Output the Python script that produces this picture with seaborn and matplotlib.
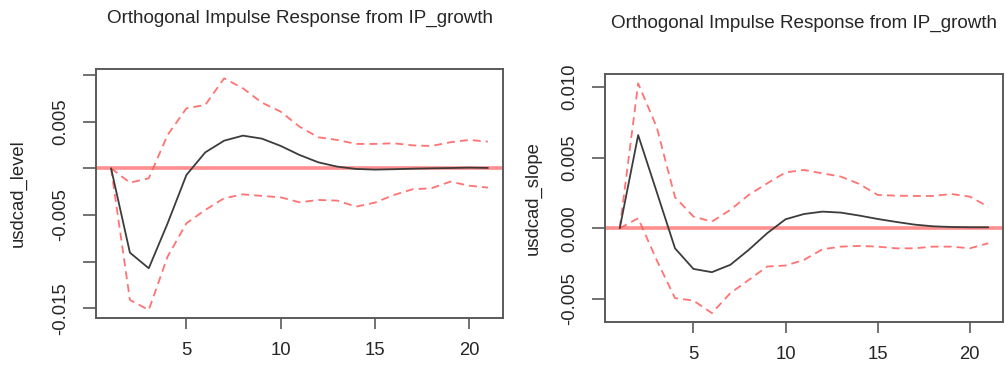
import matplotlib
matplotlib.use("Agg")
import matplotlib.pyplot as plt
import seaborn as sns
import pandas as pd
import numpy as np

# ---- data ----
horizon = list(range(1, 22))

level_irf = [0.0, -0.00904, -0.01071, -0.0059, -0.00071, 0.00171, 0.00296, 0.0035,
             0.00318, 0.0024, 0.00143, 0.00064, 0.00018, -0.00007, -0.00014, -0.0001,
             -0.00004, 0.0, 0.00003, 0.00007, 0.00004]
level_upper = [0.0, -0.00154, -0.00107, 0.00357, 0.00643, 0.00679, 0.00964, 0.00857,
               0.00704, 0.00607, 0.00446, 0.00332, 0.00304, 0.00261, 0.00261, 0.00268,
               0.00246, 0.00239, 0.00279, 0.00304, 0.00286]
level_lower = [0.0, -0.01411, -0.01518, -0.00946, -0.00589, -0.00446, -0.00321, -0.00279,
               -0.00296, -0.00311, -0.00364, -0.00339, -0.00346, -0.00411, -0.00368, -0.00286,
               -0.00225, -0.00214, -0.00143, -0.00186, -0.00207]

slope_irf = [0.0, 0.0066, 0.0026, -0.00142, -0.00288, -0.00311, -0.00259, -0.00153,
             -0.00035, 0.00064, 0.00101, 0.00118, 0.00111, 0.0009, 0.00066, 0.00045,
             0.00026, 0.00014, 0.00009, 0.00007, 0.00007]
slope_upper = [0.0, 0.01026, 0.00719, 0.0022, 0.00083, 0.00047, 0.0013, 0.00236,
               0.00318, 0.00396, 0.00413, 0.00389, 0.00366, 0.00314, 0.00236, 0.00231,
               0.00229, 0.00229, 0.00243, 0.00224, 0.00153]
slope_lower = [0.0, 0.00071, -0.00224, -0.00495, -0.00512, -0.00601, -0.0046, -0.00366,
               -0.00271, -0.00264, -0.00224, -0.00149, -0.0013, -0.00125, -0.0013, -0.00142,
               -0.00142, -0.0013, -0.0013, -0.00142, -0.00106]

title_text = "Orthogonal Impulse Response from IP_growth"
ylabels = ["usdcad_level", "usdcad_slope"]
x_ticks = [5, 10, 15, 20]
level_yticks = [-0.015, -0.010, -0.005, 0.0, 0.005, 0.010]
level_yticklabels = ["-0.015", "", "-0.005", "", "0.005", ""]
slope_yticks = [-0.005, 0.0, 0.005, 0.010]
slope_yticklabels = ["-0.005", "0.000", "0.005", "0.010"]

# ---- style ----
sns.set_style("white")
plt.rcParams["font.family"] = ["Liberation Sans", "DejaVu Sans"]
FS = 13.3
TXT = "#262626"
SPINE = "#5a5a5a"

fig = plt.figure(figsize=(10.05, 3.72), dpi=100)
ax1 = fig.add_axes([96 / 1005, 1 - 318 / 372, (503 - 96) / 1005, (318 - 69) / 372])
ax2 = fig.add_axes([605 / 1005, 1 - 322 / 372, (1003 - 605) / 1005, (322 - 74) / 372])

panels = [
    (ax1, level_irf, level_upper, level_lower, ylabels[0], level_yticks, level_yticklabels,
     (-0.01604, 0.01064), -0.1916),
    (ax2, slope_irf, slope_upper, slope_lower, ylabels[1], slope_yticks, slope_yticklabels,
     (-0.00664, 0.01093), -0.181),
]

for ax, irf, up, lo, ylab, yt, ytl, ylim, labx in panels:
    df = pd.DataFrame({"h": horizon, "irf": irf, "upper": up, "lower": lo})
    ax.axhline(0, color="#ff7a7a", lw=2.6, alpha=0.85, zorder=1)
    sns.lineplot(data=df, x="h", y="upper", ax=ax, color="#ff5a5a", alpha=0.85, lw=1.3,
                 linestyle=(0, (4.4, 2.8)), legend=False, zorder=2)
    sns.lineplot(data=df, x="h", y="lower", ax=ax, color="#ff5a5a", alpha=0.85, lw=1.3,
                 linestyle=(0, (4.4, 2.8)), legend=False, zorder=2)
    sns.lineplot(data=df, x="h", y="irf", ax=ax, color="#3c3c3c", lw=1.3, legend=False, zorder=3)

    ax.set_xlim(0.2, 21.8)
    ax.set_ylim(*ylim)
    ax.set_xticks(x_ticks)
    ax.set_xticklabels([str(t) for t in x_ticks])
    ax.set_yticks(yt)
    ax.set_yticklabels(ytl)
    ax.set_xlabel("")
    ax.set_ylabel(ylab, fontsize=FS, color=TXT)
    ax.yaxis.set_label_coords(labx, 0.5)
    ax.yaxis.label.set_verticalalignment("center")

    ax.tick_params(axis="both", direction="out", length=9.5, width=1.2, color=SPINE,
                   labelsize=FS, labelcolor=TXT)
    ax.tick_params(axis="x", pad=9, length=8)
    ax.tick_params(axis="y", pad=9.5, labelrotation=90)
    for lab in ax.get_yticklabels():
        lab.set_verticalalignment("center")
    ax.tick_params(left=True, bottom=True)
    for s in ax.spines.values():
        s.set_visible(True)
        s.set_color(SPINE)
        s.set_linewidth(1.4)
    ax.set_title(title_text, fontsize=FS + 0.3, color=TXT, pad=33)

fig.savefig("out.png", dpi=100)
